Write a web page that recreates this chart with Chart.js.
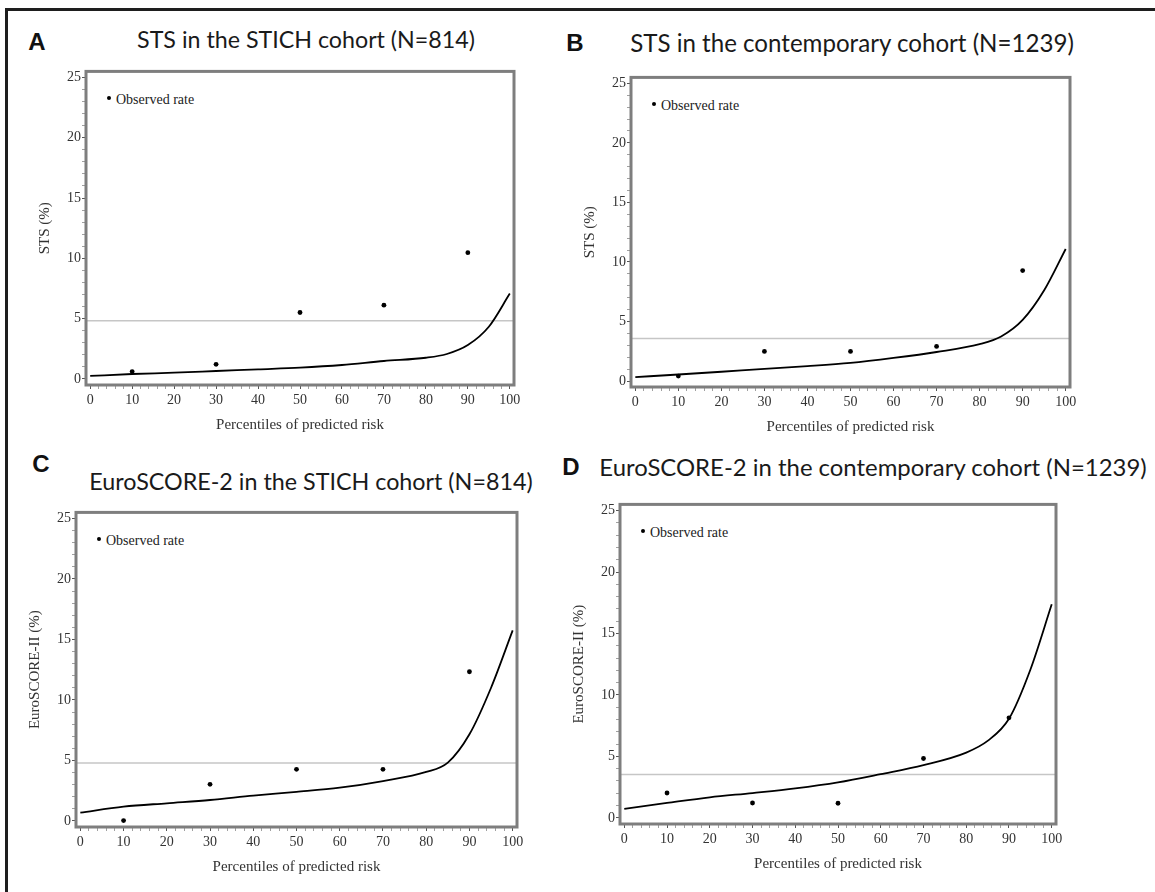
<!DOCTYPE html>
<html>
<head>
<meta charset="utf-8">
<title>Calibration of STS and EuroSCORE-2</title>
<script src="https://cdn.jsdelivr.net/npm/chart.js@4.4.1/dist/chart.umd.min.js"></script>
<style>
  body { margin: 0; background: #fff; }
  #page { position: relative; width: 1155px; height: 892px; overflow: hidden; background: #fff; }
  #outer { position: absolute; left: 5px; top: 8px; width: 1300px; height: 1000px; border-top: 3px solid #1e1e1e; border-left: 3px solid #1e1e1e; }
  canvas { position: absolute; }
  .letter { position: absolute; font-family: "Liberation Sans", Arial, sans-serif; font-weight: bold; font-size: 24px; color: #111; line-height: 1; transform: translate(-50%, -50%); }
  .title { position: absolute; font-family: Lato, "Open Sans", sans-serif; font-size: 22px; color: #1a1a1a; white-space: nowrap; line-height: 1.2; transform: translate(-50%, -50%); }
  .legend { position: absolute; font-family: "Liberation Serif", "Times New Roman", serif; font-size: 14px; color: #222; white-space: nowrap; line-height: 1; transform: translateY(-50%); }
  .dot { position: absolute; width: 4px; height: 4px; border-radius: 50%; background: #000; transform: translate(-50%, -50%); }
</style>
</head>
<body>
<div id="page"><div id="outer"></div></div>
<script>
// x positions
const percentiles = [10, 30, 50, 70, 90];
const curvePercentiles = [0, 10, 20, 30, 40, 50, 60, 70, 80, 85, 90, 95, 100];
const xTickLabels = [0, 10, 20, 30, 40, 50, 60, 70, 80, 90, 100];
const yTickLabels = [0, 5, 10, 15, 20, 25];

// A - STS, STICH cohort
const stsStichObserved = [0.61, 1.21, 5.51, 6.12, 10.47];
const stsStichPredicted = [0.25, 0.41, 0.52, 0.66, 0.8, 0.94, 1.16, 1.49, 1.76, 2.07, 2.81, 4.33, 7.08];
const stsStichOverall = 4.82;

// B - STS, contemporary cohort
const stsContObserved = [0.42, 2.49, 2.49, 2.91, 9.28];
const stsContPredicted = [0.33, 0.55, 0.78, 1.03, 1.25, 1.52, 1.94, 2.44, 3.1, 3.74, 5.13, 7.62, 11.09];
const stsContOverall = 3.58;

// C - EuroSCORE-2, STICH cohort
const esStichObserved = [0.03, 3.03, 4.27, 4.27, 12.33];
const esStichPredicted = [0.69, 1.18, 1.46, 1.73, 2.09, 2.4, 2.75, 3.3, 4.05, 4.82, 7.16, 11.01, 15.75];
const esStichOverall = 4.79;

// D - EuroSCORE-2, contemporary cohort
const esContObserved = [2.02, 1.21, 1.19, 4.83, 8.14];
const esContPredicted = [0.73, 1.21, 1.67, 2.02, 2.4, 2.89, 3.56, 4.29, 5.31, 6.26, 8.06, 12.05, 17.37];
const esContOverall = 3.53;

const xMin = -1, xMax = 101;
const yMin = -0.5, yMax = 25.5;

const serif = '"Liberation Serif", "Times New Roman", serif';
const axisText = '#333';

// frame = [left, top, right, bottom] of the plot box on the page
const panels = [
  { letter: 'A', letterPos: [37, 42], title: 'STS in the STICH cohort (N=814)', titlePos: [306, 40], titleWidth: 338,
    yTitle: 'STS (%)', frame: [86, 70, 514, 385],
    observed: stsStichObserved, predicted: stsStichPredicted, overall: stsStichOverall },
  { letter: 'B', letterPos: [575, 43], title: 'STS in the contemporary cohort (N=1239)', titlePos: [852, 43], titleWidth: 444,
    yTitle: 'STS (%)', frame: [631, 76, 1070, 387],
    observed: stsContObserved, predicted: stsContPredicted, overall: stsContOverall },
  { letter: 'C', letterPos: [41, 464], title: 'EuroSCORE-2 in the STICH cohort (N=814)', titlePos: [311, 482], titleWidth: 444,
    yTitle: 'EuroSCORE-II (%)', frame: [76, 511, 517, 827],
    observed: esStichObserved, predicted: esStichPredicted, overall: esStichOverall },
  { letter: 'D', letterPos: [571, 467], title: 'EuroSCORE-2 in the contemporary cohort (N=1239)', titlePos: [873, 467], titleWidth: 548,
    yTitle: 'EuroSCORE-II (%)', frame: [620, 503, 1056, 824],
    observed: esContObserved, predicted: esContPredicted, overall: esContOverall }
];

const page = document.getElementById('page');

const framePlugin = {
  id: 'plotFrame',
  afterDatasetsDraw(chart) {
    const { ctx, chartArea: a } = chart;
    ctx.save();
    ctx.strokeStyle = '#7e7e7e';
    ctx.lineWidth = 3;
    ctx.strokeRect(a.left, a.top, a.right - a.left, a.bottom - a.top);
    ctx.restore();
  }
};

function minorTicks(from, to, step) {
  const out = [];
  for (let v = from; v <= to; v += step) out.push(v);
  return out;
}

function addText(cls, text, x, y) {
  const el = document.createElement('div');
  el.className = cls;
  el.textContent = text;
  el.style.left = x + 'px';
  el.style.top = y + 'px';
  page.appendChild(el);
  return el;
}

function buildPanel(p) {
  const [L, T, R, B] = p.frame;

  addText('letter', p.letter, p.letterPos[0], p.letterPos[1]);
  const t = addText('title', p.title, p.titlePos[0], p.titlePos[1]);
  const w = t.offsetWidth;
  t.style.fontSize = (22 * p.titleWidth / w).toFixed(2) + 'px';

  const dot = document.createElement('div');
  dot.className = 'dot';
  dot.style.left = (L + 23) + 'px';
  dot.style.top = (T + 28) + 'px';
  page.appendChild(dot);
  addText('legend', 'Observed rate', L + 30, T + 30);

  const canvas = document.createElement('canvas');
  const cw = R - L + 70, ch = B - T + 61;
  canvas.width = cw;
  canvas.height = ch;
  canvas.style.left = (L - 50) + 'px';
  canvas.style.top = (T - 8) + 'px';
  canvas.style.width = cw + 'px';
  canvas.style.height = ch + 'px';
  page.appendChild(canvas);

  new Chart(canvas, {
    type: 'scatter',
    data: {
      datasets: [
        {
          data: [xMin, xMax].map(x => ({ x: x, y: p.overall })),
          showLine: true, borderColor: '#c6c6c6', borderWidth: 1.5, pointRadius: 0, order: 3
        },
        {
          data: curvePercentiles.map((x, i) => ({ x: x, y: p.predicted[i] })),
          showLine: true, borderColor: '#000', borderWidth: 1.8, pointRadius: 0,
          cubicInterpolationMode: 'monotone', order: 2
        },
        {
          data: percentiles.map((x, i) => ({ x: x, y: p.observed[i] })),
          pointRadius: 2.4, backgroundColor: '#000', borderWidth: 0, order: 1
        }
      ]
    },
    options: {
      responsive: false,
      animation: false,
      events: [],
      layout: { padding: { top: 8, right: 20, left: 0, bottom: 0 } },
      plugins: { legend: { display: false }, tooltip: { enabled: false } },
      scales: {
        x: {
          type: 'linear', min: xMin, max: xMax,
          afterBuildTicks: s => { s.ticks = minorTicks(0, 100, 2).map(v => ({ value: v })); },
          afterFit: s => { s.height = 53; },
          border: { display: false },
          grid: {
            drawOnChartArea: false, tickLength: 4, tickWidth: 1,
            tickColor: c => (c.tick && c.tick.value % 10 === 0) ? '#555' : '#a0a0a0'
          },
          ticks: {
            autoSkip: false, maxRotation: 0, padding: 3, color: axisText,
            font: { family: serif, size: 14 },
            callback: v => xTickLabels.includes(v) ? String(v) : ''
          },
          title: {
            display: true, text: 'Percentiles of predicted risk', color: axisText,
            font: { family: serif, size: 15 }, padding: { top: 0, bottom: 4 }
          }
        },
        y: {
          type: 'linear', min: yMin, max: yMax,
          afterBuildTicks: s => { s.ticks = minorTicks(0, 25, 1).map(v => ({ value: v })); },
          afterFit: s => { s.width = 50; },
          border: { display: false },
          grid: {
            drawOnChartArea: false, tickLength: 4, tickWidth: 1,
            tickColor: c => (c.tick && c.tick.value % 5 === 0) ? '#555' : '#a0a0a0'
          },
          ticks: {
            autoSkip: false, padding: 1, color: axisText,
            font: { family: serif, size: 14 },
            callback: v => yTickLabels.includes(v) ? String(v) : ''
          },
          title: {
            display: true, text: p.yTitle, color: axisText,
            font: { family: serif, size: 15 }, padding: { top: 0, bottom: 0 }
          }
        }
      }
    },
    plugins: [framePlugin]
  });
}

panels.forEach(buildPanel);
</script>
</body>
</html>
